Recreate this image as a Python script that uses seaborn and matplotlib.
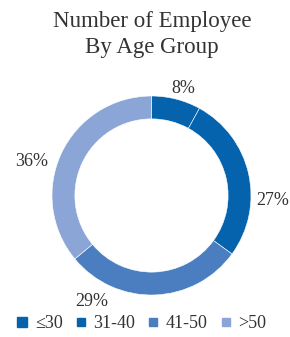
import seaborn as sns
import matplotlib.pyplot as plt
from matplotlib.lines import Line2D

# data
age_groups = ['≤30', '31-40', '41-50', '>50']
shares = [8, 27, 29, 36]
colors = ['#0563ae', '#0563ae', '#4a7ec1', '#8aa5d6']

# where the percentage labels sit (in units of the ring radius)
label_xy = [(0.32, 1.08), (1.22, -0.05), (-0.60, -1.07), (-1.20, 0.34)]

sns.set_theme(style='white')
plt.rcParams['font.family'] = ['Liberation Serif', 'DejaVu Serif']

fig = plt.figure(figsize=(2.9, 3.37), dpi=100)
# ring centred at about (151, 195) px, radius ~99 px
ax = fig.add_axes([52 / 290, 42 / 337, 199 / 290, 199 / 337])

wedges, _ = ax.pie(shares, colors=colors, startangle=90, counterclock=False,
                   radius=1, wedgeprops=dict(width=0.23, edgecolor='white', linewidth=0.4))
ax.set_xlim(-1, 1)
ax.set_ylim(-1, 1)
ax.axis('off')

for (x, y), v in zip(label_xy, shares):
    ax.text(x, y, f'{v}%', ha='center', va='center', fontsize=13, color='#333333')

fig.text(0.524, 0.897, 'Number of Employee\nBy Age Group', ha='center', va='center',
         fontsize=16.5, color='#333333', linespacing=1.3)

handles = [Line2D([], [], marker='s', linestyle='none', markersize=6 if i else 7.5,
                  markerfacecolor=c, markeredgecolor=c) for i, c in enumerate(colors)]
fig.legend(handles, age_groups, loc='center', bbox_to_anchor=(0.49, 0.04), ncol=4,
           frameon=False, fontsize=13, handlelength=0.5, handletextpad=0.45,
           columnspacing=0.75, labelcolor='#333333', borderpad=0.2)

fig.savefig('out.png', dpi=100)
